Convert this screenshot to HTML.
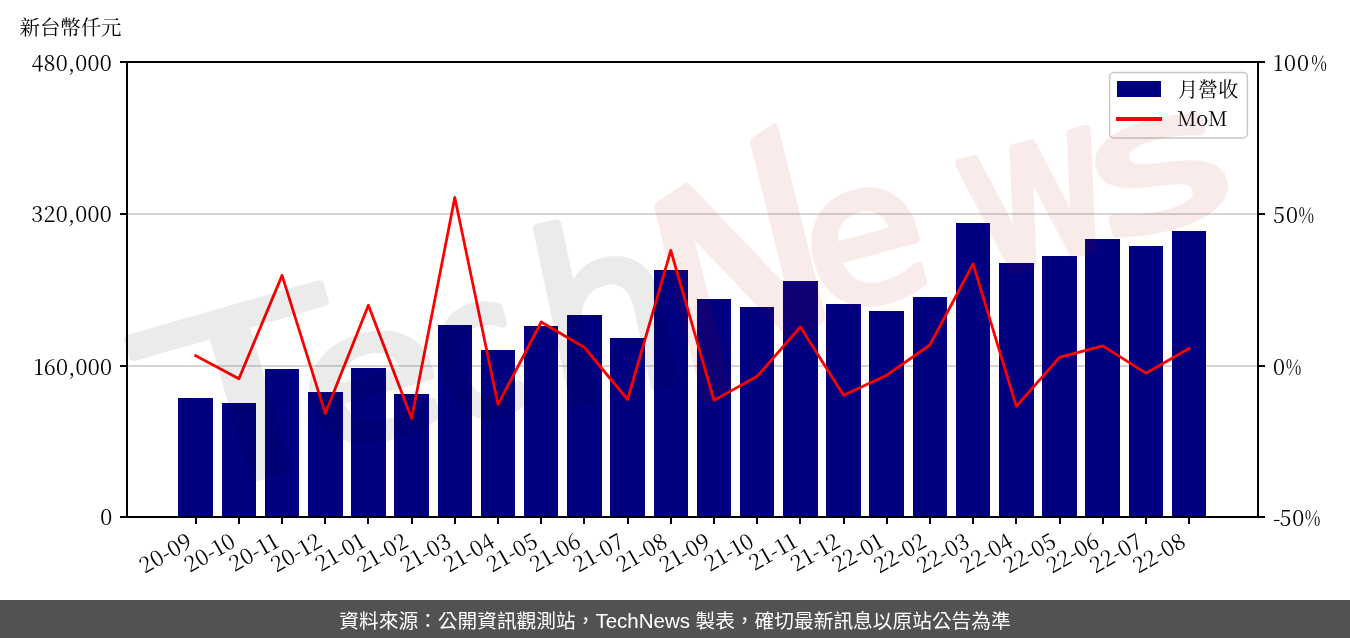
<!DOCTYPE html>
<html lang="zh-Hant"><head><meta charset="utf-8"><title>月營收</title>
<style>
html,body{margin:0;padding:0;background:#fff;}
body{width:1350px;height:638px;overflow:hidden;position:relative;}
svg{position:absolute;left:0;top:0;display:block;}
.num{font-family:"Noto Serif CJK SC", "Liberation Serif", serif;font-weight:400;font-size:21.5px;letter-spacing:0.25px;fill:#000;}
.cjk{font-family:"Noto Serif CJK SC", "Liberation Serif", serif;font-weight:400;font-size:20.4px;fill:#000;}
.foot{position:absolute;left:0;top:600px;width:1350px;height:38px;background:#525252;color:#fff;text-align:center;
font-family:"Liberation Sans","Noto Sans CJK TC",sans-serif;font-size:19.72px;line-height:38px;padding-top:1.5px;box-sizing:border-box;white-space:nowrap;}
</style></head><body>
<svg width="1350" height="600" viewBox="0 0 1350 600">
<rect x="0" y="0" width="1350" height="600" fill="#fff"/>
<rect x="127.0" y="365" width="1131.0" height="2" fill="#d6d6d6"/>
<rect x="127.0" y="213" width="1131.0" height="2" fill="#d6d6d6"/>
<g fill="#000080">
<rect x="178" y="398" width="35" height="119"/>
<rect x="222" y="403" width="34" height="114"/>
<rect x="265" y="369" width="34" height="148"/>
<rect x="308" y="392" width="35" height="125"/>
<rect x="351" y="368" width="35" height="149"/>
<rect x="394" y="394" width="35" height="123"/>
<rect x="438" y="325" width="34" height="192"/>
<rect x="481" y="350" width="34" height="167"/>
<rect x="524" y="326" width="34" height="191"/>
<rect x="567" y="315" width="35" height="202"/>
<rect x="610" y="338" width="35" height="179"/>
<rect x="654" y="270" width="34" height="247"/>
<rect x="697" y="299" width="34" height="218"/>
<rect x="740" y="307" width="34" height="210"/>
<rect x="783" y="281" width="35" height="236"/>
<rect x="826" y="304" width="35" height="213"/>
<rect x="869" y="311" width="35" height="206"/>
<rect x="913" y="297" width="34" height="220"/>
<rect x="956" y="223" width="34" height="294"/>
<rect x="999" y="263" width="35" height="254"/>
<rect x="1042" y="256" width="35" height="261"/>
<rect x="1085" y="239" width="35" height="278"/>
<rect x="1129" y="246" width="34" height="271"/>
<rect x="1172" y="231" width="34" height="286"/>
</g>
<polyline points="195.7,355.7 238.9,378.8 282.1,275.4 325.3,413.6 368.4,305.3 411.6,418.6 454.8,197.5 498.0,404.5 541.2,322.0 584.4,347.5 627.6,399.5 670.8,250.5 714.0,400.4 757.2,376.3 800.4,326.9 843.6,395.3 886.7,375.2 929.9,345.0 973.1,263.8 1016.3,406.3 1059.5,357.3 1102.7,345.8 1145.9,373.2 1189.1,348.5" fill="none" stroke="#ff0000" stroke-width="2.78" stroke-linejoin="round" stroke-linecap="square"/>
<rect x="127.0" y="62.0" width="1131.0" height="455.0" fill="none" stroke="#000" stroke-width="2"/>
<g fill="#000">
<rect x="120" y="61" width="7" height="2"/>
<rect x="1258" y="61" width="7" height="2"/>
<rect x="120" y="213" width="7" height="2"/>
<rect x="1258" y="213" width="7" height="2"/>
<rect x="120" y="365" width="7" height="2"/>
<rect x="1258" y="365" width="7" height="2"/>
<rect x="120" y="516" width="7" height="2"/>
<rect x="1258" y="516" width="7" height="2"/>
<rect x="195" y="517" width="2" height="7"/>
<rect x="238" y="517" width="2" height="7"/>
<rect x="281" y="517" width="2" height="7"/>
<rect x="324" y="517" width="2" height="7"/>
<rect x="367" y="517" width="2" height="7"/>
<rect x="411" y="517" width="2" height="7"/>
<rect x="454" y="517" width="2" height="7"/>
<rect x="497" y="517" width="2" height="7"/>
<rect x="540" y="517" width="2" height="7"/>
<rect x="583" y="517" width="2" height="7"/>
<rect x="627" y="517" width="2" height="7"/>
<rect x="670" y="517" width="2" height="7"/>
<rect x="713" y="517" width="2" height="7"/>
<rect x="756" y="517" width="2" height="7"/>
<rect x="799" y="517" width="2" height="7"/>
<rect x="843" y="517" width="2" height="7"/>
<rect x="886" y="517" width="2" height="7"/>
<rect x="929" y="517" width="2" height="7"/>
<rect x="972" y="517" width="2" height="7"/>
<rect x="1015" y="517" width="2" height="7"/>
<rect x="1059" y="517" width="2" height="7"/>
<rect x="1102" y="517" width="2" height="7"/>
<rect x="1145" y="517" width="2" height="7"/>
<rect x="1188" y="517" width="2" height="7"/>
</g>
<text class="num" x="112.0" y="71.1" text-anchor="end">480,000</text>
<text class="num" x="112.0" y="221.9" text-anchor="end">320,000</text>
<text class="num" x="112.3" y="374.8" text-anchor="end">160,000</text>
<text class="num" x="112.6" y="524.8" text-anchor="end">0</text>
<text class="num" x="1273" y="70.9" style="letter-spacing:0.9px">100</text>
<text class="num" transform="translate(1311.19,70.9) scale(0.79,1)">%</text>
<text class="num" x="1273" y="222.7" style="letter-spacing:0.9px">50</text>
<text class="num" transform="translate(1298.46,222.7) scale(0.79,1)">%</text>
<text class="num" x="1273" y="374.8" style="letter-spacing:0.9px">0</text>
<text class="num" transform="translate(1285.73,374.8) scale(0.79,1)">%</text>
<text class="num" x="1273" y="525.7">-</text>
<text class="num" x="1279.4" y="525.7" style="letter-spacing:0.9px">50</text>
<text class="num" transform="translate(1304.86,525.7) scale(0.79,1)">%</text>
<text class="num" text-anchor="end" transform="translate(194.0,545.7) rotate(-30)">20-09</text>
<text class="num" text-anchor="end" transform="translate(237.2,545.7) rotate(-30)">20-10</text>
<text class="num" text-anchor="end" transform="translate(280.4,545.7) rotate(-30)">20-11</text>
<text class="num" text-anchor="end" transform="translate(323.6,545.7) rotate(-30)">20-12</text>
<text class="num" text-anchor="end" transform="translate(366.7,545.7) rotate(-30)">21-01</text>
<text class="num" text-anchor="end" transform="translate(409.9,545.7) rotate(-30)">21-02</text>
<text class="num" text-anchor="end" transform="translate(453.1,545.7) rotate(-30)">21-03</text>
<text class="num" text-anchor="end" transform="translate(496.3,545.7) rotate(-30)">21-04</text>
<text class="num" text-anchor="end" transform="translate(539.5,545.7) rotate(-30)">21-05</text>
<text class="num" text-anchor="end" transform="translate(582.7,545.7) rotate(-30)">21-06</text>
<text class="num" text-anchor="end" transform="translate(625.9,545.7) rotate(-30)">21-07</text>
<text class="num" text-anchor="end" transform="translate(669.1,545.7) rotate(-30)">21-08</text>
<text class="num" text-anchor="end" transform="translate(712.3,545.7) rotate(-30)">21-09</text>
<text class="num" text-anchor="end" transform="translate(755.5,545.7) rotate(-30)">21-10</text>
<text class="num" text-anchor="end" transform="translate(798.7,545.7) rotate(-30)">21-11</text>
<text class="num" text-anchor="end" transform="translate(841.9,545.7) rotate(-30)">21-12</text>
<text class="num" text-anchor="end" transform="translate(885.0,545.7) rotate(-30)">22-01</text>
<text class="num" text-anchor="end" transform="translate(928.2,545.7) rotate(-30)">22-02</text>
<text class="num" text-anchor="end" transform="translate(971.4,545.7) rotate(-30)">22-03</text>
<text class="num" text-anchor="end" transform="translate(1014.6,545.7) rotate(-30)">22-04</text>
<text class="num" text-anchor="end" transform="translate(1057.8,545.7) rotate(-30)">22-05</text>
<text class="num" text-anchor="end" transform="translate(1101.0,545.7) rotate(-30)">22-06</text>
<text class="num" text-anchor="end" transform="translate(1144.2,545.7) rotate(-30)">22-07</text>
<text class="num" text-anchor="end" transform="translate(1187.4,545.7) rotate(-30)">22-08</text>
<text class="cjk" x="19.5" y="35">新台幣仟元</text>
<rect x="1109.6" y="72.4" width="137.8" height="65.5" rx="4.5" fill="#fff" fill-opacity="0.8" stroke="#c8c8c8" stroke-width="1.5"/>
<rect x="1117" y="81" width="44" height="16" fill="#000080"/>
<rect x="1116" y="117" width="46" height="4" fill="#ff0000"/>
<text class="cjk" x="1178" y="97" style="font-size:20.1px">月營收</text>
<text class="num" x="1177" y="125.6" style="font-size:20.2px;letter-spacing:0">MoM</text>
<g font-family="&quot;DejaVu Sans&quot;, &quot;Liberation Sans&quot;, sans-serif" font-size="100" stroke-linejoin="round" stroke-linecap="round"><g opacity="0.075" fill="#000" stroke="#000"><text transform="translate(247.0,393.0) rotate(-16.0) skewY(0.0) scale(3.194,2.317) translate(-30.50,36.25)" stroke-width="3.31">T</text><text transform="translate(372.0,388.0) rotate(-15.0) skewY(0.0) scale(2.297,1.791) translate(-30.75,27.25)" stroke-width="4.44">e</text><text transform="translate(478.0,363.0) rotate(-15.0) skewY(0.0) scale(1.586,1.896) translate(-27.25,27.25)" stroke-width="5.19">c</text><text transform="translate(606.0,305.0) rotate(-12.0) skewY(0.0) scale(2.239,2.355) translate(-32.00,38.00)" stroke-width="3.92">h</text></g><g opacity="0.075" fill="#c00000" stroke="#c00000"><text transform="translate(740.0,262.0) rotate(-14.0) skewY(-20.0) scale(2.382,2.685) translate(-37.50,36.50)" stroke-width="3.56">N</text><text transform="translate(866.0,248.0) rotate(-15.0) skewY(0.0) scale(1.960,1.930) translate(-30.75,27.25)" stroke-width="4.63">e</text><text transform="translate(1038.0,203.0) rotate(-15.0) skewY(0.0) scale(1.795,2.128) translate(-41.00,27.25)" stroke-width="4.61">w</text><text transform="translate(1161.0,175.0) rotate(-15.0) skewY(0.0) scale(2.723,1.826) translate(-26.25,27.25)" stroke-width="4.04">s</text></g></g>
</svg>
<div class="foot">資料來源：公開資訊觀測站，<span style="font-size:20.5px">TechNews</span> 製表，確切最新訊息以原站公告為準</div>
</body></html>
